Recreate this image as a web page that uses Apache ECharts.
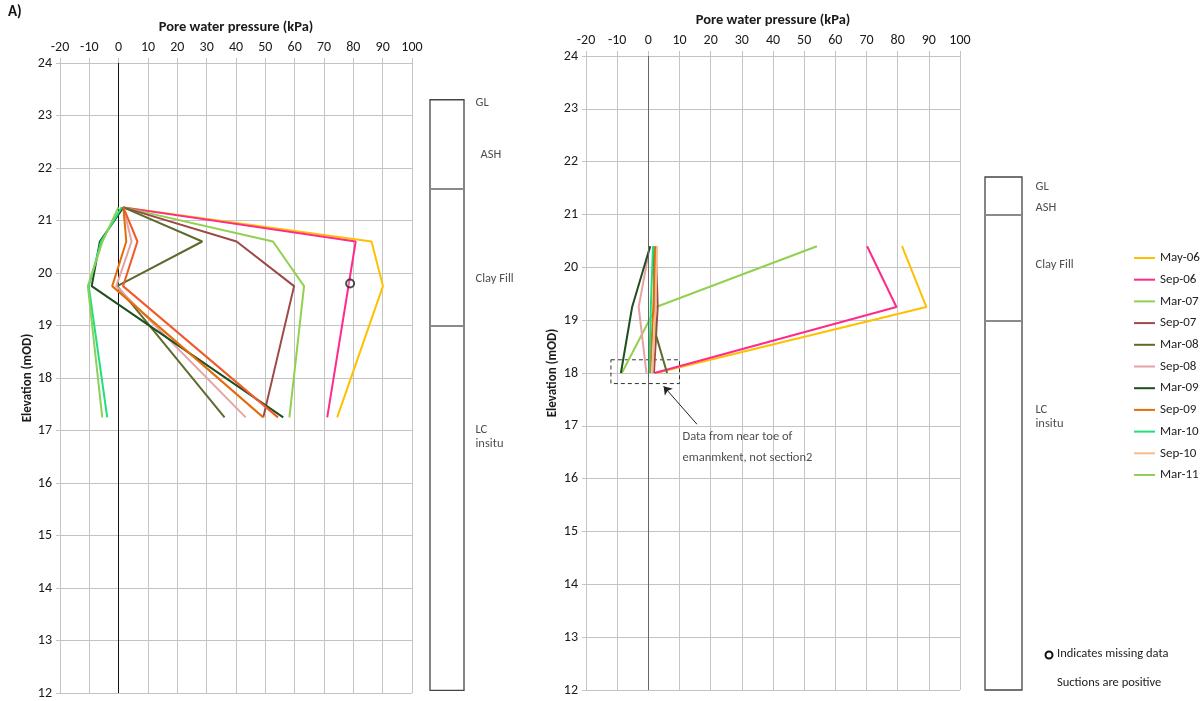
<!DOCTYPE html>
<html><head><meta charset="utf-8">
<script src="https://cdn.jsdelivr.net/npm/echarts@6/dist/echarts.min.js"></script>
<style>html,body{margin:0;padding:0;background:#fff}#c{width:1202px;height:701px}</style>
</head><body><div id="c"></div>
<script>
// ---------- categories ----------
const months = ['May-06','Sep-06','Mar-07','Sep-07','Mar-08','Sep-08','Mar-09','Sep-09','Mar-10','Sep-10','Mar-11'];
const rightColors = ['#FFC000','#FF2A8A','#92D050','#9B4A47','#5E6B2E','#E6A3A3','#1F4E1F','#E46C0A','#1FE07A','#F8BC8C','#8CCF5A'];
const leftColors  = ['#FFC000','#FF2A8A','#92D050','#9B4A47','#5E6B2E','#E6A3A3','#1F4E1F','#E46C0A','#1FE07A','#F05A28','#8CCF5A'];

// ---------- left panel (A) : elevations (mOD) & pore water pressures (kPa) ----------
const leftElev = [21.25, 20.6, 19.75, 17.25];
const L_May06 = [1.6, 86.2, 90.1, 74.5];
const L_Sep06 = [1.6, 80.8, null, 71.1];
const L_Mar07 = [1.6, 52.6, 63.2, 58.2];
const L_Sep07 = [1.6, 40.2, 59.8, 49.3];
const L_Mar08 = [1.6, 28.5, -0.5, 36.1];
const L_Sep08 = [1.6, 4.4, -0.8, 43.3];
const L_Mar09 = [1.6, -6.4, -9.2, 56.1];
const L_Sep09 = [1.6, 2.6, -2.2, 49.3];
const L_Mar10 = [1.0, -6.0, -10.2, -3.9];
const L_Sep10 = [1.6, 6.4, 1.5, 54.3];
const L_Mar11 = [-0.1, -5.5, -10.5, -5.6];
const leftMissing = [78.9, 19.8];

// ---------- right panel ----------
const rightElev = [20.4, 19.25, 18.75, 18.0];
const R_May06 = [81.4, 89.2, null, 2.5];
const R_Sep06 = [70.2, 79.6, null, 2.0];
const R_Mar07 = [54.1, 2.5, null, -8.5];
const R_Sep07 = [2.4, 3.0, null, 1.8];
const R_Mar08 = [1.7, null, 2.3, 6.0];
const R_Sep08 = [0.5, -3.1, null, -0.6];
const R_Mar09 = [0.6, -5.2, null, -8.8];
const R_Sep09 = [2.3, 1.6, null, 0.6];
const R_Mar10 = [1.5, 0.8, null, 0.3];
const R_Sep10 = [2.8, 2.3, null, 1.3];
const R_Mar11 = [];

// ---------- strata ----------
const leftStrataNames = ['GL', 'ASH', 'Clay Fill', 'LC\ninsitu'];
const leftStrataLabelElev = [23.24, 22.25, 19.89, 16.88];
const leftStrataIndent = [0, 5, 0, 0];
const leftColumnTop = 23.3, leftColumnBottom = 12.05;
const leftBoundaries = [21.6, 19.0];

const rightStrataNames = ['GL', 'ASH', 'Clay Fill', 'LC\ninsitu'];
const rightStrataLabelElev = [21.52, 21.12, 20.04, 17.17];
const rightStrataIndent = [0, 0, 0, 0];
const rightColumnTop = 21.71, rightColumnBottom = 12.0;
const rightBoundaries = [20.99, 18.98];

// annotation (right panel)
const noteBox = [[-12, 18.25], [10, 17.8]];
const noteArrow = [[15.6, 17.03], [4.9, 17.75]];
const noteTextPos = [10.8, 16.6];
const noteText = 'Data from near toe of\nemanmkent, not section2';

// ---------- build ----------
const FONT = 'Carlito, Lato, "Liberation Sans", sans-serif';
const leftVals = [L_May06,L_Sep06,L_Mar07,L_Sep07,L_Mar08,L_Sep08,L_Mar09,L_Sep09,L_Mar10,L_Sep10,L_Mar11];
const rightVals = [R_May06,R_Sep06,R_Mar07,R_Sep07,R_Mar08,R_Sep08,R_Mar09,R_Sep09,R_Mar10,R_Sep10,R_Mar11];

function pairs(vals, elev) {
  return vals.map((v, i) => [v, elev[i]]);
}

const gridCol = '#C4C4C4';
function xAx(gi) {
  return {
    gridIndex: gi, type: 'value', min: -20, max: 100, interval: 10, position: 'top',
    name: 'Pore water pressure (kPa)', nameLocation: 'middle', nameGap: 25,
    nameTextStyle: { fontFamily: FONT, fontWeight: 'bold', fontSize: 14.5, color: '#1a1a1a' },
    axisLine: { show: true, onZero: false, lineStyle: { color: gridCol } },
    axisTick: { show: true, length: 5, lineStyle: { color: gridCol } },
    axisLabel: { fontFamily: FONT, fontSize: 14, color: '#1a1a1a', margin: 9 },
    splitLine: { show: true, lineStyle: { color: gridCol, width: 1 } }
  };
}
function yAx(gi, gap) {
  return {
    gridIndex: gi, type: 'value', min: 12, max: 24, interval: 1,
    name: 'Elevation (mOD)', nameLocation: 'middle', nameGap: gap, nameRotate: 90,
    nameTextStyle: { fontFamily: FONT, fontWeight: 'bold', fontSize: 13, color: '#1a1a1a' },
    axisLine: { show: true, onZero: false, lineStyle: { color: gridCol } },
    axisTick: { show: true, length: 4, lineStyle: { color: gridCol } },
    axisLabel: { fontFamily: FONT, fontSize: 14, color: '#1a1a1a', margin: 8 },
    splitLine: { show: true, lineStyle: { color: gridCol, width: 1 } }
  };
}
function hidX(gi) { return { gridIndex: gi, type: 'value', min: 0, max: 1, show: false }; }
function hidY(gi) { return { gridIndex: gi, type: 'value', min: 12, max: 24, show: false }; }

const series = [];
// right panel series first (legend uses them)
months.forEach((m, i) => {
  series.push({
    name: m, type: 'line', xAxisIndex: 1, yAxisIndex: 1,
    data: rightVals[i].length ? pairs(rightVals[i], rightElev) : [],
    connectNulls: true, showSymbol: false, symbol: 'none', z: 3,
    lineStyle: { color: rightColors[i], width: 2 }, itemStyle: { color: rightColors[i] }
  });
});
months.forEach((m, i) => {
  series.push({
    name: 'A ' + m, type: 'line', xAxisIndex: 0, yAxisIndex: 0,
    data: pairs(leftVals[i], leftElev),
    connectNulls: true, showSymbol: false, symbol: 'none', z: 3,
    lineStyle: { color: leftColors[i], width: 2 }, itemStyle: { color: leftColors[i] }
  });
});
// left: missing-data marker + zero line
series.push({
  name: 'missing', type: 'scatter', xAxisIndex: 0, yAxisIndex: 0, z: 4,
  data: [leftMissing], symbol: 'circle', symbolSize: 8,
  itemStyle: { color: 'rgba(255,255,255,0.3)', borderColor: '#222', borderWidth: 2 },
  markLine: { silent: true, symbol: ['none','none'], label: { show: false }, z: 1,
    lineStyle: { color: '#111', width: 1, type: 'solid' }, data: [{ xAxis: 0 }] }
});
// right: annotation + zero line + dashed box + arrow
series.push({
  name: 'note', type: 'scatter', xAxisIndex: 1, yAxisIndex: 1, z: 2,
  data: [noteTextPos], symbolSize: 1, itemStyle: { color: 'rgba(0,0,0,0)' },
  label: { show: true, position: 'right', distance: 0, formatter: noteText,
    fontFamily: FONT, fontSize: 12.5, color: '#222', lineHeight: 21, align: 'left' },
  markLine: { silent: true, symbol: ['none','none'], label: { show: false },
    data: [
      { xAxis: 0, lineStyle: { color: '#666', width: 1, type: 'solid' } },
      [{ coord: noteArrow[0], symbol: 'none' }, { coord: noteArrow[1], symbol: 'arrow', symbolSize: 8, lineStyle: { color: '#222', width: 1, type: 'solid' } }]
    ] },
  markArea: { silent: true, itemStyle: { color: 'rgba(0,0,0,0)', borderColor: '#333', borderWidth: 1, borderType: [4, 3] },
    data: [[{ coord: noteBox[0] }, { coord: noteBox[1] }]] }
});
function strataSeries(gi, names, elev, indent, top, bottom, bounds, dist) {
  return {
    name: 'strata' + gi, type: 'scatter', xAxisIndex: gi, yAxisIndex: gi,
    data: names.map((n, i) => ({ value: [1, elev[i]], label: { offset: [indent[i], 0] } })),
    symbolSize: 1, itemStyle: { color: 'rgba(0,0,0,0)' },
    label: { show: true, position: 'right', distance: dist, fontFamily: FONT, fontSize: 12.5, color: '#222', lineHeight: 14,
      formatter: p => names[p.dataIndex] },
    markArea: { silent: true, itemStyle: { color: 'rgba(0,0,0,0)', borderColor: '#444', borderWidth: 1.3 },
      data: [[{ coord: [0, top] }, { coord: [1, bottom] }]] },
    markLine: { silent: true, symbol: ['none','none'], label: { show: false },
      lineStyle: { color: '#8a8a8a', width: 2, type: 'solid' },
      data: bounds.map(b => [{ coord: [0, b] }, { coord: [1, b] }]) }
  };
}
series.push(strataSeries(2, leftStrataNames, leftStrataLabelElev, leftStrataIndent, leftColumnTop, leftColumnBottom, leftBoundaries, 11));
series.push(strataSeries(3, rightStrataNames, rightStrataLabelElev, rightStrataIndent, rightColumnTop, rightColumnBottom, rightBoundaries, 13));

const option = {
  animation: false,
  backgroundColor: '#fff',
  textStyle: { fontFamily: FONT },
  grid: [
    { left: 60, top: 63, width: 352, height: 630 },
    { left: 586, top: 56, width: 374, height: 634 },
    { left: 430, top: 63, width: 34, height: 630 },
    { left: 985, top: 56, width: 37, height: 634 }
  ],
  xAxis: [xAx(0), xAx(1), hidX(2), hidX(3)],
  yAxis: [yAx(0, 21), yAx(1, 27), hidY(2), hidY(3)],
  legend: {
    data: months, orient: 'vertical', left: 1129, top: 246,
    icon: 'rect', itemWidth: 21, itemHeight: 2, itemGap: 7.7,
    textStyle: { fontFamily: FONT, fontSize: 13, color: '#222', lineHeight: 14 },
    selectedMode: false
  },
  graphic: [
    { type: 'text', left: 8, top: 5, style: { text: 'A)', font: 'bold 15px ' + FONT, fill: '#111' } },
    { type: 'circle', shape: { cx: 1049, cy: 655, r: 3.5 }, style: { fill: '#fff', stroke: '#111', lineWidth: 2 } },
    { type: 'text', left: 1057, top: 647, style: { text: 'Indicates missing data', font: '12.5px ' + FONT, fill: '#222' } },
    { type: 'text', left: 1057, top: 676, style: { text: 'Suctions are positive', font: '12.5px ' + FONT, fill: '#222' } }
  ],
  series: series
};
const chart = echarts.init(document.getElementById('c'), null, { renderer: 'canvas' });
chart.setOption(option);
</script></body></html>
